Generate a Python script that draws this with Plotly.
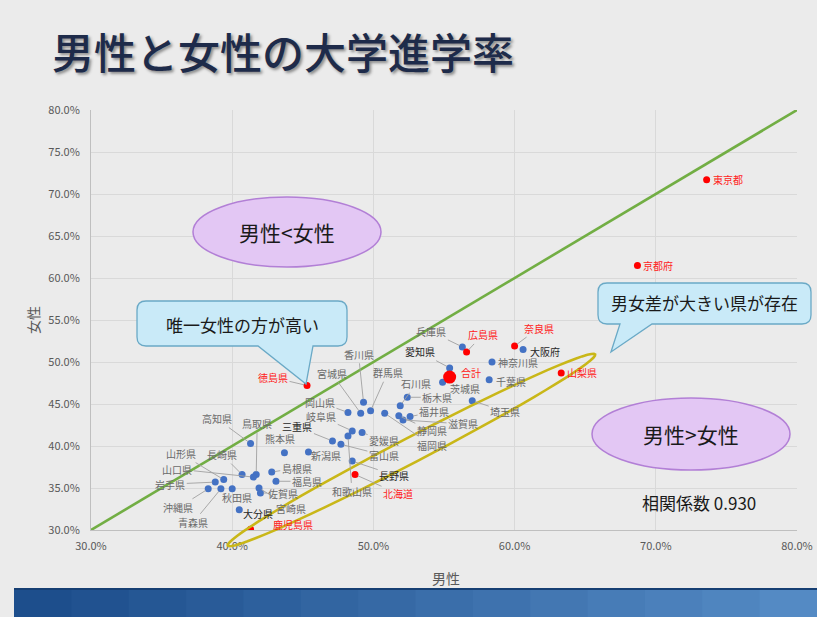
import math
import plotly.graph_objects as go

# ---------------- data (percent) ----------------
prefs = ["東京都", "京都府", "山梨県", "奈良県", "大阪府", "神奈川県", "千葉県", "埼玉県",
         "兵庫県", "広島県", "愛知県", "茨城県", "栃木県", "石川県", "福岡県", "静岡県",
         "滋賀県", "福井県", "香川県", "宮城県", "群馬県", "岡山県", "岐阜県", "愛媛県",
         "和歌山県", "三重県", "富山県", "長野県", "北海道", "熊本県", "新潟県", "島根県",
         "鳥取県", "山口県", "長崎県", "福島県", "高知県", "山形県", "岩手県", "沖縄県",
         "青森県", "秋田県", "宮崎県", "佐賀県", "大分県", "鹿児島県", "徳島県"]
male = [73.6, 68.7, 63.3, 60.0, 60.6, 58.4, 58.2, 57.0,
        56.3, 56.6, 55.4, 54.9, 52.4, 51.9, 50.8, 51.8,
        52.1, 52.6, 49.3, 49.1, 49.8, 48.2, 48.5, 49.2,
        48.2, 47.1, 47.7, 48.5, 48.7, 43.7, 45.4, 42.8,
        41.7, 41.5, 40.7, 43.1, 41.3, 39.4, 38.8, 38.3,
        39.2, 40.0, 41.9, 42.0, 40.5, 41.3, 45.3]
female = [71.7, 61.5, 48.7, 51.9, 51.5, 50.0, 47.9, 45.4,
          51.8, 51.2, 49.3, 47.6, 45.8, 44.8, 43.9, 43.6,
          43.1, 43.5, 45.2, 43.9, 44.2, 44.0, 41.8, 41.6,
          41.2, 40.6, 40.2, 38.2, 36.6, 39.2, 39.3, 36.9,
          36.6, 36.3, 36.6, 35.8, 40.3, 36.0, 35.7, 34.9,
          34.9, 34.9, 35.0, 34.4, 32.4, 30.1, 47.2]
red_prefs = ["東京都", "京都府", "山梨県", "奈良県", "広島県", "北海道", "鹿児島県", "徳島県"]
total_name = "合計"
total_male = 55.4
total_female = 48.2
x_ticks = [30, 40, 50, 60, 70, 80]
y_ticks = [30, 35, 40, 45, 50, 55, 60, 65, 70, 75, 80]
correlation_text = "相関係数 0.930"

# ---------------- label placement (pixel offsets from the point) ----------------
label_offsets = {
    "東京都": (21, 0, False), "京都府": (21, 0, False), "山梨県": (21, 0, False),
    "奈良県": (24, -18, True), "大阪府": (22, 2, False), "神奈川県": (26, 0, False),
    "千葉県": (22, 2, False), "埼玉県": (33, 11, True), "兵庫県": (-31, -15, True),
    "広島県": (16, -17, True), "愛知県": (-30, -16, True), "茨城県": (22, 6, False),
    "栃木県": (30, 0, True), "石川県": (16, -22, True), "福岡県": (47, 32, True),
    "静岡県": (33, 15, True), "滋賀県": (60, 4, True), "福井県": (24, -5, True),
    "香川県": (-5, -48, True), "宮城県": (-29, -40, True), "群馬県": (17, -38, True),
    "岡山県": (-28, -10, True), "岐阜県": (-31, -14, True), "愛媛県": (22, 8, True),
    "和歌山県": (4, 56, True), "三重県": (-35, -14, True), "富山県": (43, 11, True),
    "長野県": (42, 14, True), "北海道": (43, 19, True), "熊本県": (-4, -14, False),
    "新潟県": (18, 4, False), "島根県": (25, -4, True), "鳥取県": (1, -51, True),
    "山口県": (-76, -8, True), "長崎県": (-20, -20, True), "福島県": (31, 0, True),
    "高知県": (-34, -25, True), "山形県": (-43, -26, True), "岩手県": (-45, 2, True),
    "沖縄県": (-30, 19, True), "青森県": (-28, 34, True), "秋田県": (5, 9, True),
    "宮崎県": (32, 20, True), "佐賀県": (23, 0, True), "大分県": (19, 4, False),
    "鹿児島県": (42, -5, False), "徳島県": (-34, -8, True),
}
dark_labels = {"愛知県", "三重県", "大阪府", "大分県", "長野県"}

FONT = "Noto Sans CJK JP"
W, H = 817, 617
PL, PR, PT, PB = 91, 797, 110, 530  # plot area in pixels


def px(x, y):
    """pixel -> paper coordinates"""
    return (x - PL) / (PR - PL), (PB - y) / (PB - PT)


fig = go.Figure()

# y = x reference line
fig.add_trace(go.Scatter(x=[x_ticks[0], x_ticks[-1]], y=[y_ticks[0], y_ticks[-1]], mode="lines",
                         line=dict(color="#72ae44", width=2.6), hoverinfo="skip", showlegend=False))

blue_x = [m for p, m in zip(prefs, male) if p not in red_prefs]
blue_y = [f for p, f in zip(prefs, female) if p not in red_prefs]
red_x = [m for p, m in zip(prefs, male) if p in red_prefs]
red_y = [f for p, f in zip(prefs, female) if p in red_prefs]

fig.add_trace(go.Scatter(x=blue_x, y=blue_y, mode="markers",
                         marker=dict(color="#4472c4", size=7), showlegend=False))
fig.add_trace(go.Scatter(x=red_x, y=red_y, mode="markers",
                         marker=dict(color="#ff0000", size=7), showlegend=False))
fig.add_trace(go.Scatter(x=[total_male], y=[total_female], mode="markers",
                         marker=dict(color="#ff0000", size=13), showlegend=False))

annotations = []
for p, m, f in zip(prefs, male, female):
    dx, dy, leader = label_offsets[p]
    color = "#ff2020" if p in red_prefs else ("#262626" if p in dark_labels else "#6a6a6a")
    if leader:
        annotations.append(dict(x=m, y=f, xref="x", yref="y", text=p, showarrow=True,
                                ax=dx, ay=dy, arrowhead=0, arrowwidth=0.9, arrowcolor="#a0a0a0",
                                standoff=3, font=dict(family=FONT, size=10, color=color)))
    else:
        annotations.append(dict(x=m, y=f, xref="x", yref="y", text=p, showarrow=False,
                                xshift=dx, yshift=-dy, xanchor="center", yanchor="middle",
                                font=dict(family=FONT, size=10, color=color)))
annotations.append(dict(x=total_male, y=total_female, xref="x", yref="y", text=total_name,
                        showarrow=False, xshift=21, yshift=5, xanchor="center", yanchor="middle",
                        font=dict(family=FONT, size=10, color="#ff2020")))

shapes = []

# yellow ellipse around high-gap prefectures
cx, cy, a, b, th = 411.5, 450.0, 207, 12.5, math.radians(27.5)
pts = []
for i in range(73):
    phi = 2 * math.pi * i / 72
    X = cx + a * math.cos(phi) * math.cos(th) - b * math.sin(phi) * math.sin(th)
    Y = cy - (a * math.cos(phi) * math.sin(th) + b * math.sin(phi) * math.cos(th))
    pts.append(px(X, Y))
path = "M " + " L ".join(f"{u:.5f},{v:.5f}" for u, v in pts) + " Z"
shapes.append(dict(type="path", xref="paper", yref="paper", path=path,
                   line=dict(color="#c9b718", width=2.6), fillcolor="rgba(0,0,0,0)"))


def callout(x0, y0, x1, y1, r, bx0, bx1, tx, ty):
    seq = [("M", (x0 + r, y0)), ("L", (x1 - r, y0)), ("Q", (x1, y0), (x1, y0 + r)),
           ("L", (x1, y1 - r)), ("Q", (x1, y1), (x1 - r, y1)), ("L", (bx1, y1)),
           ("L", (tx, ty)), ("L", (bx0, y1)), ("L", (x0 + r, y1)),
           ("Q", (x0, y1), (x0, y1 - r)), ("L", (x0, y0 + r)), ("Q", (x0, y0), (x0 + r, y0))]
    out = []
    for item in seq:
        cmd = item[0]
        coords = " ".join("{:.5f},{:.5f}".format(*px(*c)) for c in item[1:])
        out.append(f"{cmd} {coords}")
    return " ".join(out) + " Z"


shapes.append(dict(type="path", xref="paper", yref="paper",
                   path=callout(137, 301, 347, 346, 9, 258, 313, 306, 384),
                   fillcolor="#c9eaf8", line=dict(color="#6aa9c6", width=1.3)))
shapes.append(dict(type="path", xref="paper", yref="paper",
                   path=callout(598, 283, 811, 324, 9, 620, 652, 611, 352),
                   fillcolor="#c9eaf8", line=dict(color="#6aa9c6", width=1.3)))

# purple ellipses
for (x0, y0, x1, y1) in [(193, 197, 381, 267), (592, 398, 790, 470)]:
    u0, v1 = px(x0, y0)
    u1, v0 = px(x1, y1)
    shapes.append(dict(type="circle", xref="paper", yref="paper", x0=u0, x1=u1, y0=v0, y1=v1,
                       fillcolor="#e3c7f4", line=dict(color="#b27fd6", width=1.5)))

# bottom blue band (gradient imitation)
n = 14
for i in range(n):
    t = i / (n - 1)
    c0 = (29, 78, 140)
    c1 = (84, 138, 196)
    col = "rgb({},{},{})".format(*[int(c0[k] + (c1[k] - c0[k]) * t) for k in range(3)])
    xa = 14 + (817 - 14) * i / n
    xb = 14 + (817 - 14) * (i + 1) / n + 1
    u0, v1 = px(xa, 588)
    u1, v0 = px(xb, 617)
    shapes.append(dict(type="rect", xref="paper", yref="paper", x0=u0, x1=u1, y0=v0, y1=v1,
                       fillcolor=col, line=dict(width=0), layer="below"))
u0, v1 = px(14, 588)
u1, v0 = px(817, 590)
shapes.append(dict(type="rect", xref="paper", yref="paper", x0=u0, x1=u1, y0=v0, y1=v1,
                   fillcolor="#163f73", line=dict(width=0)))


# texts
def text_at(x, y, text, size, color, xanchor="center", **kw):
    u, v = px(x, y)
    d = dict(x=u, y=v, xref="paper", yref="paper", text=text, showarrow=False,
             xanchor=xanchor, yanchor="middle",
             font=dict(family=FONT, size=size, color=color))
    d.update(kw)
    annotations.append(d)


text_at(50, 50, "男性と女性の大学進学率", 42, "#1e2b4a", xanchor="left",
        font=dict(family=FONT, size=42, color="#1e2b4a", weight=500,
                  shadow="2px 2px 3px #8a8a8a"))
text_at(242, 324, "唯一女性の方が高い", 17, "#1a1a1a")
text_at(704, 302, "男女差が大きい県が存在", 17, "#1a1a1a")
text_at(287, 232, "男性&lt;女性", 21, "#1a1a1a")
text_at(691, 434, "男性&gt;女性", 21, "#1a1a1a")
text_at(699, 502, correlation_text, 17, "#1a1a1a")
text_at(446, 578, "男性", 14, "#595959")
text_at(33, 320, "女性", 14, "#595959", textangle=-90)

fig.update_layout(
    width=W, height=H,
    margin=dict(l=PL, r=W - PR, t=PT, b=H - PB, autoexpand=False),
    paper_bgcolor="#ebebeb", plot_bgcolor="rgba(0,0,0,0)",
    showlegend=False, shapes=shapes, annotations=annotations,
    font=dict(family=FONT),
    xaxis=dict(range=[x_ticks[0], x_ticks[-1]], tickvals=x_ticks, automargin=False,
               ticktext=[f"{v:.1f}%" for v in x_ticks], showgrid=True, gridcolor="#d9d9d9",
               zeroline=False, showline=True, linecolor="#bfbfbf", linewidth=1,
               tickfont=dict(family=FONT, size=11, color="#595959"), ticklabelstandoff=6),
    yaxis=dict(range=[y_ticks[0], y_ticks[-1]], tickvals=y_ticks, automargin=False,
               ticktext=[f"{v:.1f}%" for v in y_ticks], showgrid=True, gridcolor="#d9d9d9",
               zeroline=False, showline=True, linecolor="#bfbfbf", linewidth=1,
               tickfont=dict(family=FONT, size=11, color="#595959"), ticklabelstandoff=8),
)

fig.write_html("out.html", config={"displayModeBar": False},
               post_script="document.body.style.margin='0px';document.body.style.background='#ebebeb';")
